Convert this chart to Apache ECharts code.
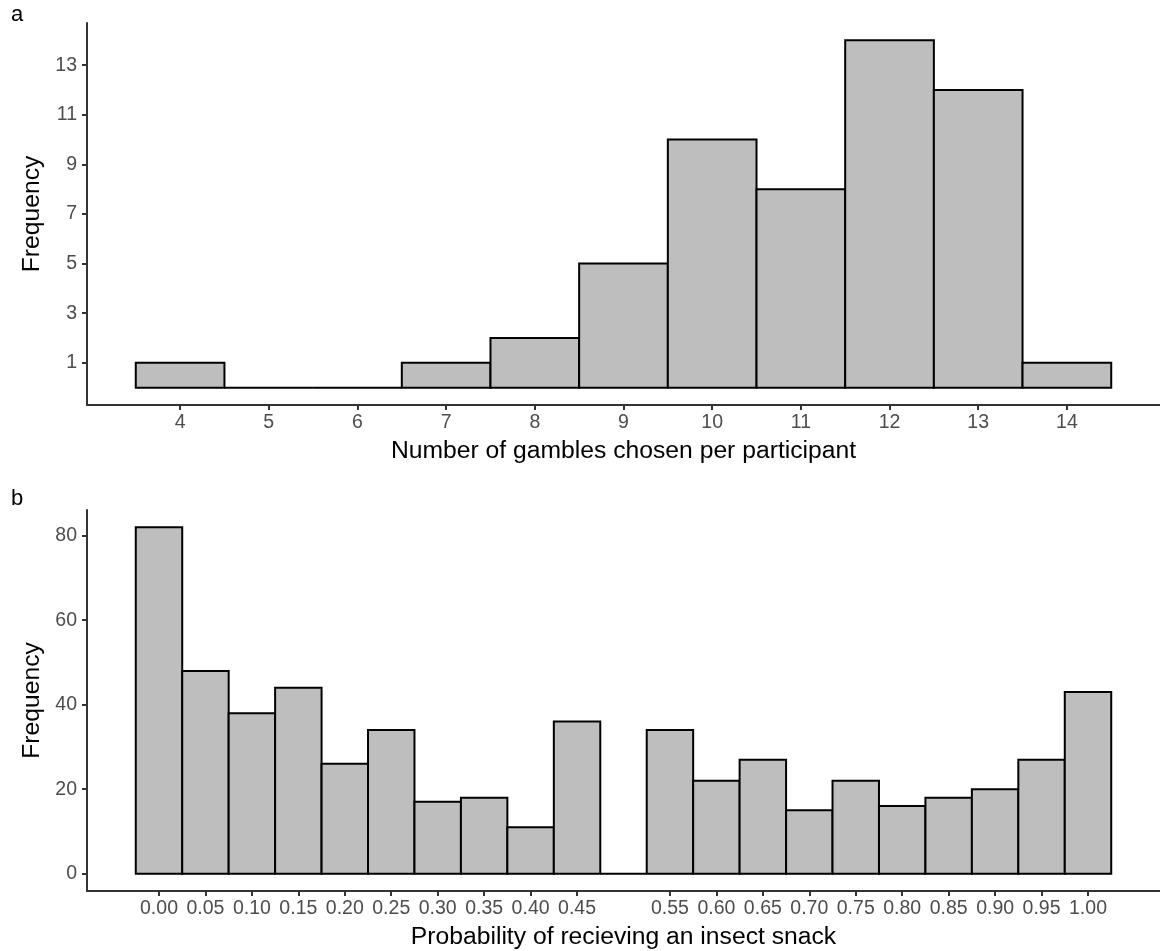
<!DOCTYPE html>
<html>
<head>
<meta charset="utf-8">
<script src="https://cdn.jsdelivr.net/npm/echarts@6/dist/echarts.min.js"></script>
<style>
  html, body { margin: 0; padding: 0; background: #fff; }
  #chart { width: 1160px; height: 951px; }
</style>
</head>
<body>
<div id="chart"></div>
<script>
// ---- Panel a data ----
const gambleBins = [4, 5, 6, 7, 8, 9, 10, 11, 12, 13, 14];
const gambleCounts = [1, 0, 0, 1, 2, 5, 10, 8, 14, 12, 1];
const gambleTicksX = [4, 5, 6, 7, 8, 9, 10, 11, 12, 13, 14];
const gambleTicksY = [1, 3, 5, 7, 9, 11, 13];
const gambleBinWidth = 1;

// ---- Panel b data ----
const probBins = [0.00, 0.05, 0.10, 0.15, 0.20, 0.25, 0.30, 0.35, 0.40, 0.45, 0.50,
                  0.55, 0.60, 0.65, 0.70, 0.75, 0.80, 0.85, 0.90, 0.95, 1.00];
const probCounts = [82, 48, 38, 44, 26, 34, 17, 18, 11, 36, 0,
                    34, 22, 27, 15, 22, 16, 18, 20, 27, 43];
const probTicksX = [0.00, 0.05, 0.10, 0.15, 0.20, 0.25, 0.30, 0.35, 0.40, 0.45,
                    0.55, 0.60, 0.65, 0.70, 0.75, 0.80, 0.85, 0.90, 0.95, 1.00];
const probTicksY = [0, 20, 40, 60, 80];
const probBinWidth = 0.05;

const FONT = "'Liberation Sans', Arial, Helvetica, sans-serif";
const AXIS_COLOR = '#333333';
const LABEL_COLOR = '#4d4d4d';

function histRender(binWidth) {
  return function (params, api) {
    const x = api.value(0), y = api.value(1);
    const p0 = api.coord([x - binWidth / 2, y]);
    const p1 = api.coord([x + binWidth / 2, 0]);
    if (y === 0) {
      return {
        type: 'line',
        shape: { x1: p0[0], y1: p1[1], x2: p1[0], y2: p1[1] },
        style: { stroke: '#000000', lineWidth: 2 }
      };
    }
    return {
      type: 'rect',
      shape: { x: p0[0], y: p0[1], width: p1[0] - p0[0], height: p1[1] - p0[1] },
      style: { fill: '#bebebe', stroke: '#000000', lineWidth: 2 }
    };
  };
}

function xAxisCfg(gridIndex, min, max, ticks, fmt, name) {
  return {
    type: 'value', gridIndex: gridIndex, min: min, max: max,
    axisLine: { show: true, onZero: false, lineStyle: { color: AXIS_COLOR, width: 2 } },
    axisTick: { show: true, customValues: ticks, length: 5, lineStyle: { color: AXIS_COLOR, width: 2 } },
    axisLabel: { customValues: ticks, formatter: fmt, color: LABEL_COLOR, fontSize: 19.5, fontFamily: FONT, margin: 8 },
    splitLine: { show: false },
    name: name, nameLocation: 'middle', nameGap: 34,
    nameTextStyle: { color: '#000', fontSize: 24.7, fontFamily: FONT }
  };
}
function yAxisCfg(gridIndex, min, max, ticks) {
  return {
    type: 'value', gridIndex: gridIndex, min: min, max: max,
    axisLine: { show: true, onZero: false, lineStyle: { color: AXIS_COLOR, width: 2 } },
    axisTick: { show: true, customValues: ticks, length: 5, lineStyle: { color: AXIS_COLOR, width: 2 } },
    axisLabel: { customValues: ticks, color: LABEL_COLOR, fontSize: 19.5, fontFamily: FONT, margin: 10 },
    splitLine: { show: false },
    name: 'Frequency', nameLocation: 'middle', nameGap: 40,
    nameTextStyle: { color: '#000', fontSize: 24.7, fontFamily: FONT }
  };
}

const chart = echarts.init(document.getElementById('chart'), null, { renderer: 'canvas' });
chart.setOption({
  animation: false,
  backgroundColor: '#ffffff',
  grid: [
    { left: 87, top: 23, width: 1078, height: 382 },
    { left: 87, top: 510, width: 1078, height: 382 }
  ],
  xAxis: [
    xAxisCfg(0, 2.95, 15.05, gambleTicksX, v => String(v), 'Number of gambles chosen per participant'),
    xAxisCfg(1, -0.0775, 1.0775, probTicksX, v => v.toFixed(2), 'Probability of recieving an insect snack')
  ],
  yAxis: [
    yAxisCfg(0, -0.7, 14.7, gambleTicksY),
    yAxisCfg(1, -4.1, 86.1, probTicksY)
  ],
  graphic: [
    { type: 'text', left: 11, top: 4, style: { text: 'a', fontSize: 22, fontFamily: FONT, fill: '#000' } },
    { type: 'text', left: 11, top: 488, style: { text: 'b', fontSize: 22, fontFamily: FONT, fill: '#000' } }
  ],
  series: [
    {
      type: 'custom', xAxisIndex: 0, yAxisIndex: 0,
      renderItem: histRender(gambleBinWidth),
      data: gambleBins.map((b, i) => [b, gambleCounts[i]])
    },
    {
      type: 'custom', xAxisIndex: 1, yAxisIndex: 1,
      renderItem: histRender(probBinWidth),
      data: probBins.map((b, i) => [b, probCounts[i]])
    }
  ]
});
</script>
</body>
</html>
